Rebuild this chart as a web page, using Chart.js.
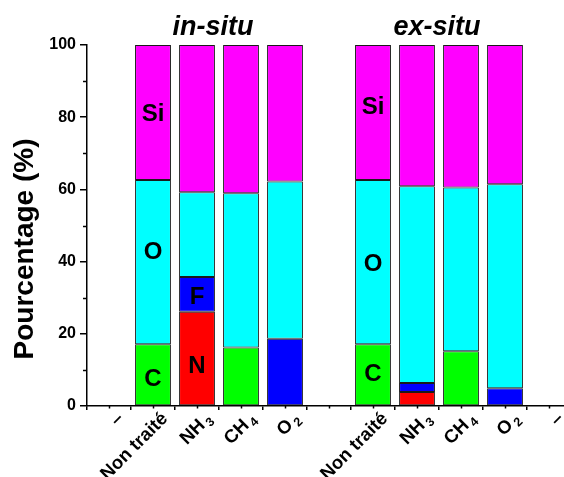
<!DOCTYPE html>
<html>
<head>
<meta charset="utf-8">
<script src="https://cdn.jsdelivr.net/npm/chart.js@4.4.1/dist/chart.umd.min.js"></script>
<style>
html,body{margin:0;padding:0;overflow:hidden;background:#fff;}
#wrap{width:564px;height:477px;overflow:hidden;}
</style>
</head>
<body>
<div id="wrap"><canvas id="c" width="580" height="477"></canvas></div>
<script>
// Categories (index 0, 5, 10 are empty slots on the axis)
const categories = ['–', 'Non traité', 'NH₃', 'CH₄', 'O₂', '', 'Non traité', 'NH₃', 'CH₄', 'O₂', '–'];
// Segment values (%), bottom to top
const valC  = [null, 17.1, null, 16.2, null, null, 17.1, null, 15.2, null, null];
const valN  = [null, null, 26.1, null, null, null, null, 3.9, null, null, null];
const valF  = [null, null, 9.6, null, 18.6, null, null, 2.5, null, 4.9, null];
const valO  = [null, 45.5, 23.5, 42.7, 43.6, null, 45.5, 54.5, 45.3, 56.5, null];
const valSi = [null, 37.4, 40.8, 41.1, 37.8, null, 37.4, 39.1, 39.5, 38.6, null];
// Y axis ticks
const yMajorTicks = [0, 20, 40, 60, 80, 100];
const yMinorTicks = [10, 30, 50, 70, 90];
// In-bar element labels: [text, category index, value position]
const elemLabels = [
  ['Si', 1, 81.2], ['O', 1, 43.2], ['C', 1, 8.0],
  ['F', 2, 30.7], ['N', 2, 11.4],
  ['Si', 6, 83.4], ['O', 6, 39.9], ['C', 6, 9.4]
];
const groupTitles = [['in-situ', 1, 4], ['ex-situ', 6, 9]];
const yTitle = 'Pourcentage (%)';

const FONT = '"Liberation Sans", Arial, sans-serif';
const SUBS = '₀₁₂₃₄₅₆₇₈₉';

function splitSub(label) {
  let main = label, sub = '';
  while (main.length && SUBS.includes(main[main.length - 1])) {
    sub = String(SUBS.indexOf(main[main.length - 1])) + sub;
    main = main.slice(0, -1);
  }
  return [main, sub];
}

const annot = {
  id: 'annot',
  afterDraw(chart) {
    const {ctx, chartArea: ca, scales: {x, y}} = chart;
    ctx.save();
    ctx.strokeStyle = '#000';
    ctx.lineWidth = 1.5;
    // minor y ticks
    yMinorTicks.forEach(v => {
      const py = Math.round(y.getPixelForValue(v)) + 0.5;
      ctx.beginPath(); ctx.moveTo(ca.left - 4, py); ctx.lineTo(ca.left, py); ctx.stroke();
    });
    // minor x ticks at category centres
    categories.forEach((c, i) => {
      const px = Math.round(x.getPixelForValue(i)) + 0.5;
      ctx.beginPath(); ctx.moveTo(px, ca.bottom); ctx.lineTo(px, ca.bottom + 2.5); ctx.stroke();
    });
    ctx.fillStyle = '#000';
    // x tick labels (rotated 45°, with subscripts)
    const FM = 18.5, FS = 12.5;
    categories.forEach((lab, i) => {
      if (!lab) return;
      const [main, sub] = splitSub(lab);
      const px = x.getPixelForValue(i);
      ctx.save();
      ctx.translate(px + 11, ca.bottom + 9);
      ctx.rotate(-Math.PI / 4);
      ctx.textAlign = 'left';
      ctx.textBaseline = 'alphabetic';
      ctx.font = 'bold ' + FM + 'px ' + FONT;
      const wm = ctx.measureText(main).width;
      ctx.font = 'bold ' + FS + 'px ' + FONT;
      const ws = sub ? ctx.measureText(sub).width : 0;
      const gap = sub ? 2.5 : 0;
      const total = wm + gap + ws;
      ctx.font = 'bold ' + FM + 'px ' + FONT;
      ctx.fillText(main, -total, 6.5);
      if (sub) {
        ctx.font = 'bold ' + FS + 'px ' + FONT;
        ctx.fillText(sub, -ws, 10.5);
      }
      ctx.restore();
    });
    // element labels
    ctx.font = 'bold 24px ' + FONT;
    ctx.textAlign = 'center';
    ctx.textBaseline = 'alphabetic';
    elemLabels.forEach(([t, i, v]) => {
      ctx.fillText(t, x.getPixelForValue(i), y.getPixelForValue(v) + 8.6);
    });
    // group titles
    ctx.font = 'italic bold 27px ' + FONT;
    groupTitles.forEach(([t, a, b], k) => {
      const cx = (x.getPixelForValue(a) + x.getPixelForValue(b)) / 2 - (k === 0 ? 6 : 2);
      ctx.fillText(t, cx, ca.top - 10);
    });
    // y title
    ctx.save();
    ctx.font = 'bold 28px ' + FONT;
    ctx.translate(33, 249);
    ctx.rotate(-Math.PI / 2);
    ctx.fillText(yTitle, 0, 0);
    ctx.restore();
    ctx.restore();
  }
};

const mk = (label, data, color) => ({
  label, data, backgroundColor: color, borderColor: '#1a1a1a', borderWidth: 1,
  borderSkipped: false, barPercentage: 0.815, categoryPercentage: 1.0
});

new Chart(document.getElementById('c'), {
  type: 'bar',
  data: {
    labels: categories,
    datasets: [
      mk('C', valC, '#00FF00'),
      mk('N', valN, '#FF0000'),
      mk('F', valF, '#0000FF'),
      mk('O', valO, '#00FFFF'),
      mk('Si', valSi, '#FF00FF')
    ]
  },
  options: {
    responsive: false,
    animation: false,
    layout: {padding: {top: 45, right: 9, left: 0, bottom: 0}},
    plugins: {legend: {display: false}, tooltip: {enabled: false}, title: {display: false}},
    scales: {
      x: {
        stacked: true,
        offset: true,
        afterFit: s => { s.height = 71; },
        grid: {offset: true, drawOnChartArea: false, drawTicks: true, tickLength: 4, color: '#000', lineWidth: 1.5},
        border: {display: true, color: '#000', width: 1.5},
        ticks: {display: false, autoSkip: false}
      },
      y: {
        stacked: true,
        min: 0, max: 100,
        afterFit: s => { s.width = 87; },
        afterBuildTicks: s => { s.ticks = yMajorTicks.map(v => ({value: v})); },
        grid: {drawOnChartArea: false, drawTicks: true, tickLength: 7, color: '#000', lineWidth: 1.5},
        border: {display: true, color: '#000', width: 1.5},
        ticks: {padding: 4, color: '#000', font: {family: FONT, size: 16, weight: 'bold'}}
      }
    }
  },
  plugins: [annot]
});
</script>
</body>
</html>
